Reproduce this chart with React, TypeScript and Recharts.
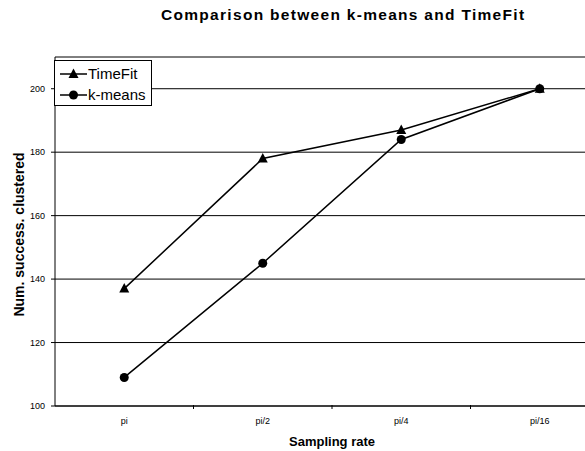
import React from 'react';
import { LineChart, Line, XAxis, YAxis, CartesianGrid } from 'recharts';

const categories = ['pi', 'pi/2', 'pi/4', 'pi/16'];
const timeFitValues = [137, 178, 187, 200];
const kMeansValues = [109, 145, 184, 200];
const yTicks = [100, 120, 140, 160, 180, 200];

const data = categories.map((c, i) => ({ rate: c, TimeFit: timeFitValues[i], kmeans: kMeansValues[i] }));

const FONT = '"Liberation Sans", Arial, sans-serif';
const CHART_W = 609;
const CHART_H = 451;
const Y_W = 55;
const HALF_BAND = (CHART_W - Y_W) / categories.length / 2;

const Triangle = (props: any) => {
  const { cx, cy } = props;
  if (cx == null || cy == null) return null;
  return <polygon points={`${cx},${cy - 5.5} ${cx - 5},${cy + 4} ${cx + 5},${cy + 4}`} fill="#000" />;
};
const Circle = (props: any) => {
  const { cx, cy } = props;
  if (cx == null || cy == null) return null;
  return <circle cx={cx} cy={cy} r={4.5} fill="#000" />;
};

const XTick = (props: any) => {
  const { x, y, payload } = props;
  return (
    <g>
      <line x1={x + HALF_BAND} x2={x + HALF_BAND} y1={405} y2={409} stroke="#000" />
      <text x={x} y={424} textAnchor="middle" fontFamily={FONT} fontSize={9} fill="#000">
        {payload.value}
      </text>
    </g>
  );
};

const YLabel = (props: any) => {
  const vb = props.viewBox || {};
  const cy = vb.y + vb.height / 2 + 3;
  return (
    <text x={24} y={cy} transform={`rotate(-90, 24, ${cy})`} textAnchor="middle" fontFamily={FONT} fontWeight="bold" fontSize={14} fill="#000">
      Num. success. clustered
    </text>
  );
};

const XLabel = (props: any) => {
  const vb = props.viewBox || {};
  const cx = vb.x + vb.width / 2;
  return (
    <text x={cx} y={446} textAnchor="middle" fontFamily={FONT} fontWeight="bold" fontSize={13} fill="#000">
      Sampling rate
    </text>
  );
};

const LegendBox = () => (
  <div style={{ position: 'absolute', left: 54, top: 60, border: '1px solid #000', background: '#fff', width: 98, height: 46, boxSizing: 'border-box', fontFamily: FONT, fontSize: 15, color: '#000', padding: '2px 0 0 5px' }}>
    <div style={{ display: 'flex', alignItems: 'center', height: 21 }}>
      <svg width={27} height={12}>
        <line x1={0} x2={27} y1={6} y2={6} stroke="#000" strokeWidth={1.5} />
        <polygon points="13.5,0.5 8.5,10 18.5,10" fill="#000" />
      </svg>
      <span style={{ marginLeft: 1 }}>TimeFit</span>
    </div>
    <div style={{ display: 'flex', alignItems: 'center', height: 21 }}>
      <svg width={27} height={12}>
        <line x1={0} x2={27} y1={6} y2={6} stroke="#000" strokeWidth={1.5} />
        <circle cx={13.5} cy={6} r={4.5} fill="#000" />
      </svg>
      <span style={{ marginLeft: 1 }}>k-means</span>
    </div>
  </div>
);

export default function App() {
  return (
    <div style={{ position: 'absolute', left: 0, top: 0, width: 585, height: 451, overflow: 'hidden', background: '#fff' }}>
      <div style={{ position: 'absolute', left: 161, top: 6, whiteSpace: 'nowrap', fontFamily: FONT, fontWeight: 'bold', fontSize: 15.5, letterSpacing: 1.3, color: '#000' }}>
        Comparison between k-means and TimeFit
      </div>
      <LineChart width={CHART_W} height={CHART_H} data={data} margin={{ top: 57, right: 0, bottom: 15, left: 0 }}>
        <CartesianGrid horizontal vertical={false} stroke="#000" strokeWidth={1} />
        <XAxis
          dataKey="rate"
          height={30}
          padding={{ left: HALF_BAND, right: HALF_BAND }}
          stroke="#000"
          tickLine={false}
          tick={<XTick />}
          interval={0}
          label={<XLabel />}
        />
        <YAxis
          width={Y_W}
          domain={[100, 210]}
          ticks={yTicks}
          stroke="#000"
          tickSize={4}
          tickMargin={6}
          tick={{ fontFamily: FONT, fontSize: 9, fill: '#000' }}
          label={<YLabel />}
        />
        <Line type="linear" dataKey="TimeFit" stroke="#000" strokeWidth={1.5} dot={<Triangle />} isAnimationActive={false} />
        <Line type="linear" dataKey="kmeans" stroke="#000" strokeWidth={1.5} dot={<Circle />} isAnimationActive={false} />
      </LineChart>
      <LegendBox />
    </div>
  );
}
